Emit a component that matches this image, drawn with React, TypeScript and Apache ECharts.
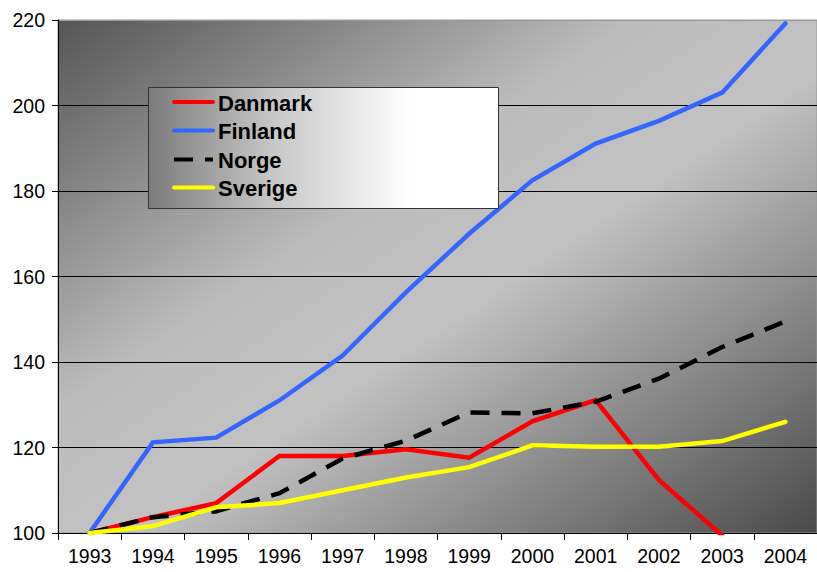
import React, { useEffect, useRef } from "react";
import * as echarts from "echarts";

const years = ["1993", "1994", "1995", "1996", "1997", "1998", "1999", "2000", "2001", "2002", "2003", "2004"];
const seriesNames = ["Danmark", "Finland", "Norge", "Sverige"];
const danmark = [100, 103.7, 107, 118, 118, 119.6, 117.6, 126.1, 131.1, 112.4, 99.4, null];
const finland = [100, 121.2, 122.3, 131, 141.5, 156.3, 170, 182.5, 191.1, 196.4, 203, 219.2];
const norge = [100, 103.7, 105.1, 109.3, 117.4, 121.6, 128.2, 128, 130.7, 136.1, 143.5, 149.5];
const sverige = [100, 101.6, 106, 107, 110, 113, 115.4, 120.5, 120.2, 120.2, 121.5, 126];
const yTicks = { min: 100, max: 220, interval: 20 };
const colors = ["#ff0000", "#3366ff", "#000000", "#ffff00"];

export default function App() {
  const ref = useRef<HTMLDivElement>(null);
  useEffect(() => {
    if (!ref.current) return;
    const chart = echarts.init(ref.current, null, { renderer: "svg" });
    const font = "'Liberation Sans', Arial, Helvetica, sans-serif";
    const dataSets = [danmark, finland, norge, sverige];
    const legendX = 148;
    const legendY = 87;
    const rowYs = [102, 130.5, 159.5, 187.5];
    const legendGraphics: any[] = [
      {
        type: "rect",
        shape: { x: legendX + 0.5, y: legendY + 0.5, width: 350, height: 121 },
        style: {
          fill: new echarts.graphic.LinearGradient(0, 0, 1, 0, [
            { offset: 0, color: "#7b7b7b" },
            { offset: 0.35, color: "#c6c6c6" },
            { offset: 0.75, color: "#ffffff" },
            { offset: 1, color: "#ffffff" },
          ]),
          stroke: "#333333",
          lineWidth: 1,
        },
        z: 100,
      },
    ];
    seriesNames.forEach((name, i) => {
      legendGraphics.push({
        type: "line",
        shape: { x1: 174, y1: rowYs[i], x2: 213, y2: rowYs[i] },
        style: {
          stroke: colors[i],
          lineWidth: 4,
          lineDash: i === 2 ? [19, 12] : null,
          lineCap: i === 2 ? "butt" : "round",
        },
        z: 101,
      });
      legendGraphics.push({
        type: "text",
        x: 218,
        y: rowYs[i] + 1,
        style: {
          text: name,
          fill: "#000",
          font: `bold 22px ${font}`,
          verticalAlign: "middle",
          align: "left",
        },
        z: 101,
      });
    });
    chart.setOption({
      animation: false,
      grid: {
        left: 58,
        right: 0,
        top: 20,
        bottom: 39,
        show: true,
        backgroundColor: new echarts.graphic.LinearGradient(0, 0, 1, 1, [
          { offset: 0, color: "#555555" },
          { offset: 0.38, color: "#bcbcbc" },
          { offset: 0.55, color: "#c2c2c2" },
          { offset: 1, color: "#4a4a4a" },
        ]),
        borderWidth: 1,
        borderColor: "#999999",
      },
      xAxis: {
        type: "category",
        data: years,
        boundaryGap: true,
        axisLine: { lineStyle: { color: "#000", width: 1 } },
        axisTick: { show: true, interval: 0, length: 7, lineStyle: { color: "#000" } },
        axisLabel: { color: "#000", fontSize: 19.5, fontFamily: font, margin: 13, interval: 0 },
        splitLine: { show: false },
      },
      yAxis: {
        type: "value",
        min: yTicks.min,
        max: yTicks.max,
        interval: yTicks.interval,
        axisLine: { show: true, lineStyle: { color: "#000", width: 1 } },
        axisTick: { show: true, length: 6, lineStyle: { color: "#000" } },
        axisLabel: { color: "#000", fontSize: 19.5, fontFamily: font, margin: 13 },
        splitLine: {
          show: true,
          lineStyle: { color: ["#000", "#000", "#000", "#000", "#000", "#000", "#999"], width: 1 },
        },
      },
      series: seriesNames.map((name, i) => ({
        name,
        type: "line",
        data: dataSets[i],
        symbol: "none",
        smooth: false,
        connectNulls: false,
        lineStyle: {
          color: colors[i],
          width: 4.5,
          type: i === 2 ? [19, 12] : "solid",
          cap: i === 2 ? "butt" : "round",
          join: "miter",
        },
        z: 2 + i,
      })),
      graphic: legendGraphics,
    });
    return () => chart.dispose();
  }, []);
  return (
    <div
      ref={ref}
      style={{ position: "fixed", left: 0, top: 0, width: 817, height: 572, background: "#fff" }}
    />
  );
}
